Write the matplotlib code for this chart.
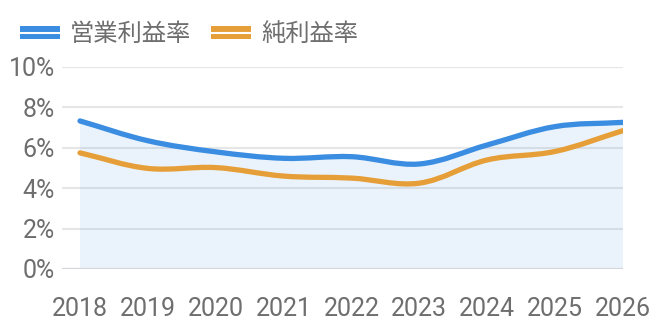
import numpy as np
import matplotlib
matplotlib.use("Agg")
import matplotlib.pyplot as plt
from matplotlib.path import Path
from matplotlib.patches import PathPatch, Patch
from matplotlib.lines import Line2D
from matplotlib.legend_handler import HandlerTuple

plt.rcParams['font.family'] = ['Roboto', 'Noto Sans CJK JP', 'DejaVu Sans']

# データ
years = [2018, 2019, 2020, 2021, 2022, 2023, 2024, 2025, 2026]
operating_margin = [7.33, 6.35, 5.8, 5.48, 5.56, 5.2, 6.14, 7.05, 7.26]
net_margin = [5.75, 4.98, 5.02, 4.6, 4.5, 4.25, 5.4, 5.82, 6.85]
y_ticks = [0, 2, 4, 6, 8, 10]

blue = "#3a8de0"
orange = "#e69f38"
text_gray = "#6e6e6e"


def smooth_path(xs, ys, t=0.35, sx=67.9, sy=20.2):
    # ベジェ曲線で滑らかにつなぐ（ピクセル比を考慮）
    px = np.asarray(xs, float) * sx
    py = np.asarray(ys, float) * sy
    n = len(px)
    cp_in, cp_out = [], []
    for i in range(n):
        a, b = max(i - 1, 0), min(i + 1, n - 1)
        d01 = np.hypot(px[i] - px[a], py[i] - py[a])
        d12 = np.hypot(px[b] - px[i], py[b] - py[i])
        tot = d01 + d12
        fa = t * d01 / tot
        fb = t * d12 / tot
        dx, dy = px[b] - px[a], py[b] - py[a]
        cp_in.append((px[i] - fa * dx, py[i] - fa * dy))
        cp_out.append((px[i] + fb * dx, py[i] + fb * dy))
    verts = [(px[0], py[0])]
    for i in range(n - 1):
        verts += [cp_out[i], cp_in[i + 1], (px[i + 1], py[i + 1])]
    verts = np.array(verts) / [sx, sy]
    codes = [Path.MOVETO] + [Path.CURVE4] * (3 * (n - 1))
    return verts, codes


fig = plt.figure(figsize=(6.6, 3.3), dpi=100)
ax = fig.add_axes([62 / 660, 1 - 269 / 330, (623 - 62) / 660, (269 - 67) / 330])

ax.set_xlim(2018 - 18 / 67.9, 2026)
ax.set_ylim(0, 10)

# 塗りつぶし（営業利益率の下）
v, c = smooth_path(years, operating_margin)
fill_verts = np.vstack([v, [[years[-1], 0], [years[0], 0], [years[0], v[0][1]]]])
fill_codes = c + [Path.LINETO, Path.LINETO, Path.CLOSEPOLY]
ax.add_patch(PathPatch(Path(fill_verts, fill_codes), facecolor=blue, alpha=0.1,
                       edgecolor='none', zorder=2))

for data, col in [(operating_margin, blue), (net_margin, orange)]:
    v, c = smooth_path(years, data)
    ax.add_patch(PathPatch(Path(v, c), facecolor='none', edgecolor=col, lw=3.8,
                           capstyle='round', joinstyle='round', zorder=3))

ax.set_yticks(y_ticks)
ax.set_yticklabels([f"{t}%" for t in y_ticks])
ax.set_xticks(years)
ax.set_xticklabels([str(y) for y in years])
ax.grid(axis='y', color='#e6e6e6', lw=1.5, zorder=1)
ax.axhline(0, color='#d3d6da', lw=1.5, zorder=2.5)
for s in ax.spines.values():
    s.set_visible(False)
ax.tick_params(axis='both', length=0, labelsize=18, colors=text_gray)
ax.tick_params(axis='x', pad=20)
ax.tick_params(axis='y', pad=5)

handles = [(Patch(facecolor=blue), Line2D([], [], color='white', lw=1.5)),
           (Patch(facecolor=orange), Line2D([], [], color='white', lw=1.5))]
leg = fig.legend(handles, ["営業利益率", "純利益率"],
                 handler_map={tuple: HandlerTuple(ndivide=1)},
                 loc='center left', bbox_to_anchor=(20 / 660, 1 - 34 / 330), ncol=2,
                 frameon=False, borderpad=0, borderaxespad=0,
                 prop={'family': ['Noto Sans CJK JP'], 'size': 17.5},
                 handlelength=1.65, handleheight=0.45, handletextpad=0.4, columnspacing=0.82)
for t in leg.get_texts():
    t.set_color(text_gray)

plt.savefig("out.png", dpi=100)
